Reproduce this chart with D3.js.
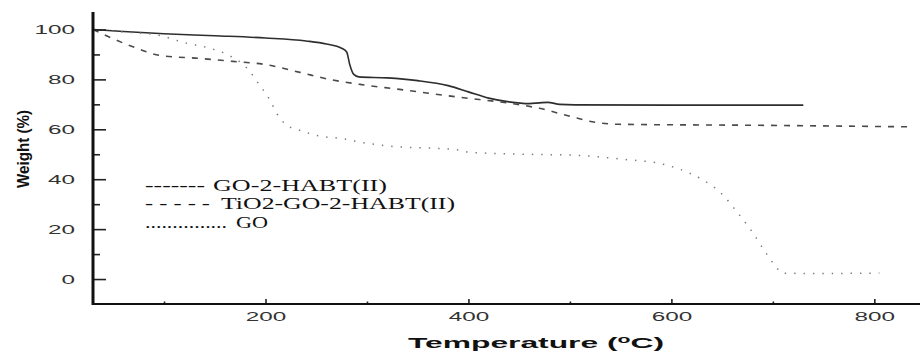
<!DOCTYPE html>
<html><head><meta charset="utf-8">
<script src="https://cdn.jsdelivr.net/npm/d3@7"></script>
<style>body{margin:0;background:#fff}svg{display:block}</style>
</head><body>
<svg id="c" width="920" height="352"></svg>
<script>
// Data: [temperature °C, weight %]
const goHabt = [[30,100],[60,99.2],[100,98.3],[150,97.5],[200,96.6],[240,95.4],[260,94.2],[275,92.5],[280,91],[283,86],[287,82],[292,81],[320,80.6],[350,79.5],[380,77.5],[400,75],[420,72.5],[440,71],[460,70.3],[470,70.6],[478,70.8],[490,70],[505,69.8],[600,69.7],[730,69.7]];
const tio2GoHabt = [[30,100],[47,96.8],[71,92.8],[96,89.6],[135,88.4],[168,87.2],[199,86],[234,82.8],[263,80],[293,78],[332,76],[392,72.8],[441,70.4],[470,68.4],[500,65.2],[525,62.8],[549,62],[687,61.6],[833,61]];
const go = [[30,100],[60,99],[93,97.8],[123,94.4],[142,92.8],[162,90],[182,84.4],[195,77.2],[204,72],[211,66.4],[221,61.6],[234,59.6],[254,57.2],[273,56.4],[300,54.4],[323,53.2],[365,52.4],[392,51.6],[401,50.8],[458,50],[505,49.6],[552,48],[592,46],[618,42.4],[628,40.4],[651,33.6],[664,27.2],[677,20.4],[694,10],[704,4.4],[709,2.4],[740,2.2],[805,2.4]];
const seriesNames = ["GO-2-HABT(II)", "TiO2-GO-2-HABT(II)", "GO"];
const legendPrefixes = ["-------", "- - - - -", "..............."];
const xTicks = [200, 400, 600, 800];
const xMinorTicks = [100, 300, 500, 700];
const yTicks = [0, 20, 40, 60, 80, 100];
const yMinorTicks = [10, 30, 50, 70, 90];

const svg = d3.select("#c");
const x = d3.scaleLinear().domain([30, 845]).range([93, 920]);
const y = d3.scaleLinear().domain([-10, 107]).range([304, 12]);

const line = d3.line().x(d => x(d[0])).y(d => y(d[1])).curve(d3.curveMonotoneX);

const styles = [
  {stroke:"#2e2e2e", width:1.6, dash:null},
  {stroke:"#4a4a4a", width:1.6, dash:"6,7"},
  {stroke:"#7a7a7a", width:1.5, dash:"1.4,8"}
];
[goHabt, tio2GoHabt, go].forEach((s, i) => {
  svg.append("path").datum(s).attr("d", line)
    .attr("fill", "none").attr("stroke", styles[i].stroke)
    .attr("stroke-width", styles[i].width)
    .attr("stroke-dasharray", styles[i].dash);
});

// Axes
const gy = svg.append("g").attr("transform", "translate(93,0)");
gy.call(d3.axisLeft(y).tickValues(yTicks).tickSize(-13).tickPadding(18).tickFormat(d3.format("d")));
gy.append("g").call(d3.axisLeft(y).tickValues(yMinorTicks).tickSize(-7).tickFormat(""));
gy.selectAll(".domain").remove();
svg.append("line").attr("x1", 93).attr("x2", 93).attr("y1", 12).attr("y2", 305)
  .attr("stroke", "#111").attr("stroke-width", 3);

const gx = svg.append("g").attr("transform", "translate(0,304)");
gx.call(d3.axisBottom(x).tickValues(xTicks).tickSize(-5).tickPadding(8).tickFormat(d3.format("d")));
gx.append("g").call(d3.axisBottom(x).tickValues(xMinorTicks).tickSize(-2.5).tickFormat(""));
gx.selectAll(".domain").remove();
svg.append("line").attr("x1", 92).attr("x2", 920).attr("y1", 304).attr("y2", 304)
  .attr("stroke", "#111").attr("stroke-width", 2.2);

svg.selectAll(".tick line").attr("stroke", "#222").attr("stroke-width", 1.6);
svg.selectAll(".tick text")
  .attr("font-family", "Liberation Sans, Arial, sans-serif")
  .attr("font-size", 12.5).attr("fill", "#333")
  .attr("textLength", function(){ return this.textContent.length * 13.5; })
  .attr("lengthAdjust", "spacingAndGlyphs");

// Axis titles
svg.append("text")
  .attr("transform", "translate(29,149) rotate(-90)")
  .attr("text-anchor", "middle")
  .attr("font-family", "Liberation Sans, Arial, sans-serif")
  .attr("font-weight", "bold").attr("font-size", 16).attr("fill", "#111")
  .attr("textLength", 78).attr("lengthAdjust", "spacingAndGlyphs")
  .text("Weight (%)");

const tt = svg.append("text")
  .attr("x", 408).attr("y", 348)
  .attr("font-family", "Liberation Sans, Arial, sans-serif")
  .attr("font-weight", "bold").attr("font-size", 15).attr("fill", "#111")
  .attr("textLength", 256).attr("lengthAdjust", "spacingAndGlyphs");
tt.append("tspan").text("Temperature (");
tt.append("tspan").attr("dy", -5).attr("font-size", 10).text("o");
tt.append("tspan").attr("dy", 5).text("C)");

// Legend
const legendRows = [
  {py:191, px:145, pl:60, tx:213, tl:174},
  {py:209, px:145, pl:65, tx:221, tl:234},
  {py:228, px:145, pl:82, tx:236, tl:32}
];
seriesNames.forEach((name, i) => {
  const r = legendRows[i];
  svg.append("text").attr("x", r.px).attr("y", r.py)
    .attr("font-family", "Liberation Serif, Times New Roman, serif")
    .attr("font-size", 17).attr("fill", "#111")
    .attr("textLength", r.pl).attr("lengthAdjust", "spacingAndGlyphs")
    .text(legendPrefixes[i]);
  svg.append("text").attr("x", r.tx).attr("y", r.py)
    .attr("font-family", "Liberation Serif, Times New Roman, serif")
    .attr("font-size", 17).attr("fill", "#111")
    .attr("textLength", r.tl).attr("lengthAdjust", "spacingAndGlyphs")
    .text(name);
});
</script>
</body></html>
